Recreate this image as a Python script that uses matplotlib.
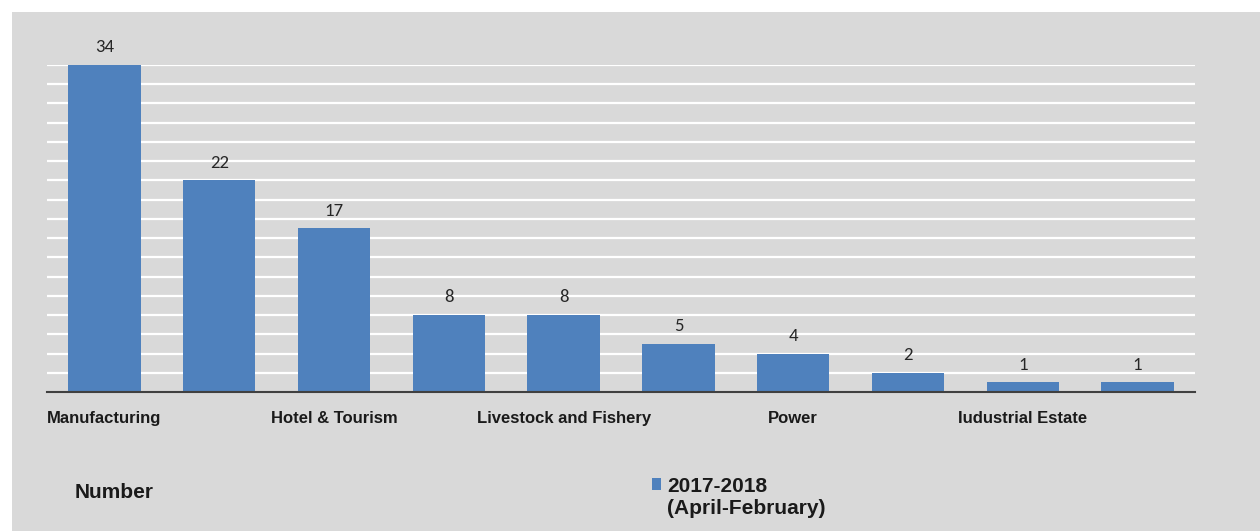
import matplotlib.pyplot as plt
from matplotlib.patches import Rectangle

# sectors (only every other label is shown in the original)
categories = ['Manufacturing', '', 'Hotel & Tourism', '', 'Livestock and Fishery',
              '', 'Power', '', 'Iudustrial Estate', '']
values = [34, 22, 17, 8, 8, 5, 4, 2, 1, 1]
series_name = '2017-2018'
series_note = '(April-February)'

bar_color = '#4f81bd'
bg = '#d9d9d9'

plt.rcParams['font.family'] = ['Liberation Sans', 'DejaVu Sans']

fig = plt.figure(figsize=(12.6, 5.31), dpi=100)
fig.patch.set_facecolor('white')
bg_rect = Rectangle((12 / 1260, 0), 1, 1 - 12 / 531, transform=fig.transFigure,
                    facecolor=bg, edgecolor='none', zorder=-10)
fig.add_artist(bg_rect)

ax = fig.add_axes([47 / 1260, (531 - 392) / 531, 1148 / 1260, 327 / 531])
ax.set_facecolor('none')
ax.set_zorder(1)

x = range(len(values))
bars = ax.bar(x, values, width=0.63, color=bar_color, zorder=3)
for b, v in zip(bars, values):
    ax.text(b.get_x() + b.get_width() / 2, v + 1.0, str(v), ha='center', va='bottom',
            fontsize=13.5, color='#262626', family=['Carlito', 'Liberation Sans', 'DejaVu Sans'])

ax.set_xlim(-0.5, len(values) - 0.5)
ax.set_ylim(0, 34)
ax.set_yticks(range(2, 35, 2))
ax.yaxis.grid(True, color='white', linewidth=1.6, zorder=1)
ax.tick_params(axis='y', left=False, labelleft=False)
ax.set_xticks(list(x))
ax.set_xticklabels(categories, fontweight='bold', fontsize=12, color='#1a1a1a')
ax.tick_params(axis='x', bottom=False, pad=10)

for s in ['top', 'right', 'left']:
    ax.spines[s].set_visible(False)
ax.spines['bottom'].set_color('#404040')
ax.spines['bottom'].set_linewidth(1.5)
ax.spines['bottom'].set_zorder(4)

fig.text(75 / 1260, 1 - 493 / 531, 'Number', fontsize=15, fontweight='bold',
         va='center', ha='left', color='#1a1a1a')

leg = ax.legend([bars[0]], [series_name], loc='center left',
                bbox_to_anchor=(652 / 1260, 1 - 486 / 531), bbox_transform=fig.transFigure,
                frameon=False, borderpad=0, borderaxespad=0,
                handlelength=0.45, handleheight=0.45, handletextpad=0.3,
                prop={'weight': 'bold', 'size': 15})
for t in leg.get_texts():
    t.set_color('#1a1a1a')
fig.text(667 / 1260, 1 - 509 / 531, series_note, fontsize=15, fontweight='bold',
         va='center', ha='left', color='#1a1a1a')

fig.savefig('out.png', dpi=100, facecolor=fig.get_facecolor())
